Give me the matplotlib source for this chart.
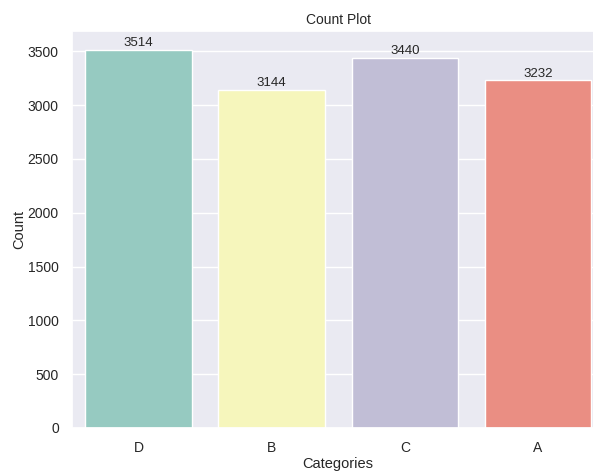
import matplotlib
matplotlib.use('Agg')
import matplotlib.pyplot as plt
import seaborn as sns

categories = ['D', 'B', 'C', 'A']
counts = [3514, 3144, 3440, 3232]

sns.set_theme(style='darkgrid')
plt.rcParams['font.family'] = ['Liberation Sans', 'DejaVu Sans']

fig = plt.figure(figsize=(5.93, 4.71), dpi=100)
ax = fig.add_axes([0.1214, 0.0913, 0.898, 0.843])

sns.barplot(x=categories, y=counts, hue=categories, palette='Set3', ax=ax, legend=False)

for c in ax.containers:
    ax.bar_label(c, fontsize=9.5, padding=0.5)

ax.set_title('Count Plot', fontsize=10, pad=5)
ax.set_xlabel('Categories', fontsize=10.5, labelpad=1.5)
ax.set_ylabel('Count', fontsize=10.5, labelpad=1)
ax.tick_params(labelsize=10)

fig.savefig('out.png', dpi=100)
